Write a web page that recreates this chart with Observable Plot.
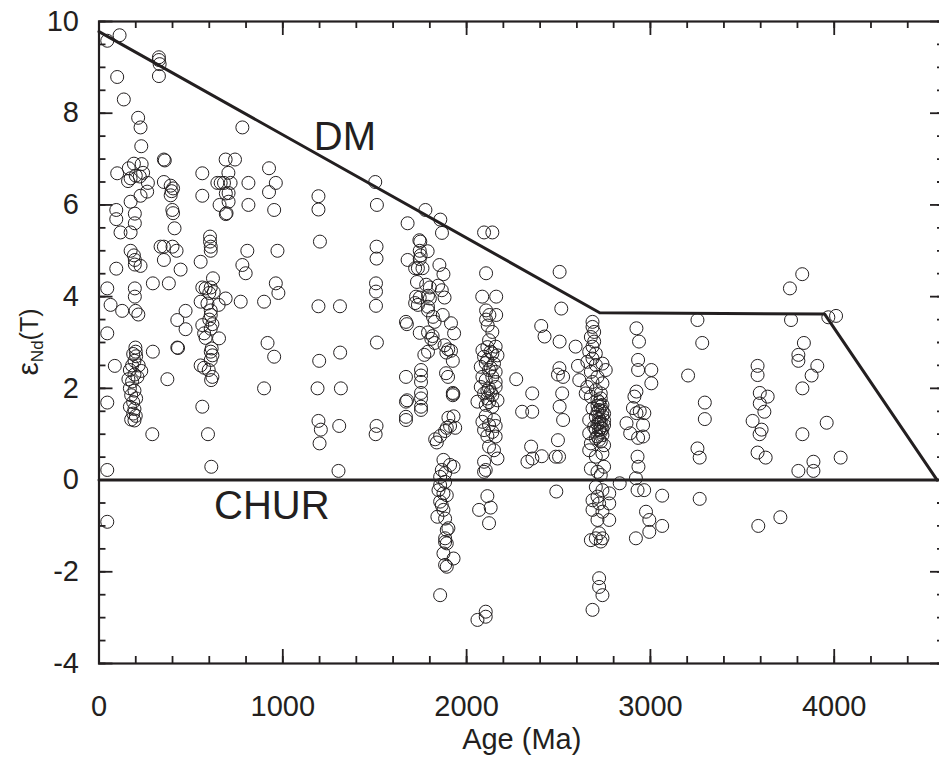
<!DOCTYPE html>
<html><head><meta charset="utf-8">
<script src="https://cdn.jsdelivr.net/npm/d3@7"></script>
<script src="https://cdn.jsdelivr.net/npm/@observablehq/plot@0.6"></script>
<style>
html,body{margin:0;padding:0;background:#fff;overflow:hidden;}
#chart svg{display:block;}
</style></head><body><div id="chart"></div>
<script>
// ---- data: [age (Ma), epsilon Nd(T)] ----
const group0to1000 = [
[45,9.58],[112,9.70],[326,9.22],[326,9.16],[330,9.07],[326,8.81],[99,8.79],[135,8.30],[213,7.90],[226,7.69],[780,7.69],[230,7.28],
[353,6.99],[358,6.97],[689,6.99],[740,6.99],[190,6.90],[232,6.89],[162,6.80],[99,6.69],[562,6.69],[925,6.80],[704,6.70],
[240,6.70],[200,6.64],[172,6.58],[158,6.52],[222,6.62],[266,6.48],[226,6.20],[262,6.29],[172,6.07],
[353,6.50],[390,6.42],[403,6.36],[395,6.30],[390,6.21],[562,6.20],[644,6.48],[662,6.48],[680,6.48],[716,6.48],[690,6.25],[705,6.26],
[705,6.07],[656,6.00],[690,5.80],[694,5.82],[813,6.48],[813,6.00],[962,6.48],[925,6.28],[953,5.89],
[94,5.89],[94,5.69],[195,5.81],[195,5.60],[117,5.40],[172,5.40],[399,5.89],[403,5.82],[411,5.49],
[604,5.31],[604,5.20],[608,5.09],[608,5.00],
[172,5.00],[190,4.90],[195,4.80],[195,4.70],[226,4.67],
[335,5.09],[353,5.09],[400,5.09],[422,5.00],[353,4.80],[444,4.59],[553,4.76],[807,5.00],[971,5.00],[780,4.69],[798,4.51],[94,4.61],
[45,4.18],[195,4.18],[195,4.00],[293,4.29],[380,4.29],[63,3.82],[126,3.69],[199,3.69],[214,3.61],[426,3.49],[471,3.69],[471,3.29],
[426,2.89],[430,2.88],[293,2.80],[372,2.20],[45,3.20],[86,2.49],[45,1.69],[45,0.22],[45,-0.91],[290,1.00],
[620,4.40],[562,4.20],[580,4.18],[608,4.20],[624,4.10],[600,4.08],[689,3.96],[771,3.89],[898,3.89],[962,4.29],[976,4.08],
[553,3.89],[590,3.85],[651,3.82],[608,3.70],[608,3.60],[600,3.50],[617,3.40],[608,3.30],[562,3.38],[572,3.20],[580,3.10],[653,3.09],
[613,2.87],[608,2.80],[617,2.72],[608,2.62],[553,2.50],[572,2.45],[597,2.40],[617,2.25],[610,2.18],[562,1.60],[593,1.00],[611,0.29],
[917,2.99],[953,2.69],[898,2.00],
[198,2.89],[200,2.80],[202,2.70],[186,2.75],[193,2.60],[180,2.50],[216,2.50],[230,2.38],[168,2.40],[193,2.30],[160,2.20],[180,2.15],
[209,2.25],[168,2.00],[193,1.95],[175,1.85],[202,1.78],[186,1.70],[168,1.60],[193,1.55],[186,1.45],[200,1.40],[175,1.32],[193,1.30]
];
const group1000to2000 = [
[1503,6.50],[1194,6.19],[1194,5.90],[1512,6.00],[1202,5.20],[1510,5.09],[1510,4.83],[1679,5.60],[1776,5.89],[1857,5.68],[1866,5.39],
[1507,4.29],[1507,4.11],[1507,3.80],[1194,3.79],[1311,3.79],[1512,3.00],[1312,2.78],[1198,2.60],[1189,2.00],[1316,2.00],
[1670,1.71],[1670,1.38],[1670,1.31],[1194,1.29],[1207,1.10],[1200,0.80],[1307,1.18],[1510,1.18],[1505,1.00],[1303,0.20],
[1743,5.23],[1748,5.20],[1788,4.99],[1745,5.00],[1750,4.90],[1745,4.82],[1679,4.80],[1720,4.62],[1735,4.62],[1760,4.62],[1852,4.69],[1874,4.49],
[1730,4.32],[1780,4.26],[1800,4.20],[1845,4.24],[1865,4.14],
[1725,4.00],[1745,3.98],[1790,4.02],[1800,3.96],[1880,3.98],
[1720,3.86],[1735,3.82],[1790,3.78],[1790,3.70],
[1817,3.56],[1826,3.45],[1670,3.45],[1675,3.40],[1870,3.60],[1915,3.42],[1932,3.20],
[1745,3.21],[1790,3.22],[1815,3.14],[1808,3.08],[1826,2.99],[1770,2.73],[1790,2.80],
[1880,2.94],[1900,2.85],[1915,2.82],[1890,2.78],[1925,2.60],
[1752,2.40],[1752,2.28],[1752,2.14],[1670,2.25],[1888,2.33],[1899,2.25],[1752,1.90],[1752,1.78],[1925,1.90],[1928,1.88],[1676,1.74],
[1752,1.60],[1752,1.53],[1925,1.85],
[1901,1.36],[1929,1.39],[1910,1.18],[1938,1.14],[1892,1.14],[1883,1.07],[1856,0.96],[1829,0.89],[1838,0.82],
[1874,0.44],[1910,0.33],[1929,0.29],[1865,0.22],[1883,0.15],[1856,0.07],[1883,-0.04],[1856,-0.11],[1847,-0.22],[1874,-0.29],[1892,-0.33],
[1856,-0.47],[1865,-0.55],[1874,-0.65],[1841,-0.80],[1883,-0.84],[1901,-1.05],[1892,-1.09],[1883,-1.27],[1883,-1.35],[1892,-1.38],
[1874,-1.60],[1929,-1.71],[1883,-1.85],[1892,-1.89],[1856,-2.51]
];
const group2000to3000 = [
[2095,5.40],[2140,5.40],[2106,4.51],[2085,4.00],[2161,4.00],[2506,4.54],[2515,3.74],
[2106,3.70],[2124,3.60],[2161,3.60],[2106,3.50],[2115,3.37],[2140,3.23],
[2406,3.36],[2424,3.13],[2506,3.02],[2593,2.91],
[2122,3.05],[2158,2.91],[2086,2.83],[2140,2.76],[2095,2.69],[2168,2.72],[2113,2.62],[2149,2.54],[2077,2.47],[2122,2.40],[2158,2.36],
[2086,2.25],[2140,2.25],[2104,2.18],[2158,2.14],[2077,2.03],[2122,2.00],[2158,2.03],[2095,1.89],[2140,1.85],[2113,1.78],[2059,1.71],
[2168,1.74],[2104,1.64],[2140,1.60],[2113,2.90],[2131,2.80],[2104,2.55],[2131,2.45],[2113,1.95],[2131,1.92],[2122,1.70],
[2104,1.40],[2149,1.31],[2086,1.27],[2122,1.20],[2158,1.18],[2095,1.09],[2140,1.05],[2113,0.96],[2158,0.95],
[2122,0.73],[2149,0.65],[2168,0.47],[2095,0.40],[2095,0.18],[2104,0.22],
[2113,-0.35],[2068,-0.65],[2131,-0.60],[2122,-0.94],[2104,-2.87],[2059,-3.05],[2104,-2.98],
[2270,2.20],[2357,1.89],[2302,1.49],[2357,1.49],[2505,2.44],[2497,2.30],[2525,2.25],[2606,2.49],[2613,2.18],[2520,1.89],[2506,1.60],
[2525,1.31],[2497,0.87],[2351,0.73],[2331,0.40],[2358,0.47],[2409,0.52],[2485,0.51],[2503,0.51],[2488,-0.25],[2833,-0.07],
[2685,3.45],[2685,3.34],[2694,3.23],[2676,3.12],[2694,3.02],[2685,2.91],[2667,2.80],[2703,2.76],[2685,2.65],[2657,2.58],[2703,2.51],
[2739,2.54],[2757,2.40],[2676,2.36],[2712,2.25],[2685,2.14],[2739,2.11],[2657,2.03],[2703,1.96],[2730,1.89],[2676,1.82],[2648,1.89],
[2712,1.74],[2739,1.64],[2685,1.56],[2721,1.53],[2748,1.45],[2703,1.38],[2667,1.31],[2730,1.27],[2748,1.20],[2694,1.16],[2721,1.09],
[2667,1.02],[2739,0.98],[2703,0.91],[2730,0.84],[2676,0.80],[2748,0.76],
[2721,1.70],[2730,1.60],[2712,1.48],[2739,1.40],[2721,1.33],[2712,1.22],[2739,1.12],[2730,1.05],[2712,0.95],[2721,0.88],[2739,1.50],
[2748,1.30],[2703,1.10],[2730,1.15],[2721,1.25],[2712,1.62],[2730,1.78],
[2667,0.65],[2703,0.51],[2739,0.58],[2676,0.25],[2712,0.18],[2748,0.29],[2730,0.11],[2703,-0.15],[2739,-0.22],[2712,-0.36],[2776,-0.29],
[2685,-0.44],[2721,-0.51],[2776,-0.51],[2685,-0.65],[2739,-0.69],[2712,-0.87],[2776,-0.87],[2721,-1.16],[2703,-1.27],[2739,-1.27],
[2676,-1.31],[2730,-1.34],[2721,-2.14],[2721,-2.33],[2739,-2.51],[2685,-2.83],
[2930,0.51],[2935,0.29],[2921,0.04],[2930,-0.22],[2966,-0.22],[2976,-0.69],[2994,-0.87],[2994,-1.13],[2921,-1.27],
[2924,3.31],[2938,3.02],[2933,2.62],[2933,2.40],[3005,2.40],[3005,2.11],[2924,1.93],[2913,1.82],[2905,1.57],[2924,1.46],[2967,1.46],
[2942,1.50],[2870,1.24],[2960,1.20],[2890,1.02],[2933,0.92],[2960,0.95]
];
const group3000plus = [
[3826,4.49],[3759,4.18],[3256,3.49],[3765,3.49],[3968,3.55],[4010,3.58],[3282,2.99],[3835,2.99],[3805,2.73],[3805,2.60],[3908,2.49],
[3877,2.28],[3827,2.00],[3205,2.28],[3583,2.49],[3583,2.29],[3595,1.90],[3638,1.82],[3595,1.67],[3620,1.49],[3556,1.29],[3605,1.10],
[3594,1.00],[3583,0.60],[3627,0.49],[3296,1.69],[3296,1.33],[3256,0.69],[3268,0.49],[3268,-0.41],[3587,-1.00],[3707,-0.81],
[3959,1.25],[4035,0.49],[3827,1.00],[3805,0.20],[3887,0.20],[3887,0.40],[3064,-0.34],[3064,-1.00]
];
// model curves
const dmAge = [0, 2724, 3948, 4560];
const dmEps = [9.78, 3.65, 3.62, 0];
const churAge = [0, 4600];
const churEps = [0, 0];
// ticks
const xTicks = [0, 1000, 2000, 3000, 4000];
const yTicks = [-4, -2, 0, 2, 4, 6, 8, 10];
const curveLabels = [{age: 1169, eps: 7.48, text: "DM"}, {age: 626, eps: -0.58, text: "CHUR"}];

// ---- build ----
const points = [...group0to1000, ...group1000to2000, ...group2000to3000, ...group3000plus].map(([age, eps]) => ({age, eps}));
const dm = dmAge.map((a, i) => ({age: a, eps: dmEps[i]}));
const chur = churAge.map((a, i) => ({age: a, eps: churEps[i]}));
const xMinor = d3.range(0, 4601, 200);
const yMinor = d3.range(-4, 10.01, 0.5);

const W = 939, H = 762, mL = 98.5, mR = -5, mT = 21, mB = 99;
const fW = W - mL - mR, fH = H - mT - mB;
const major = 14, minor = 7;
const ink = "#231f20";

const plot = Plot.plot({
  width: W, height: H,
  marginLeft: mL, marginRight: mR, marginTop: mT, marginBottom: mB,
  style: {fontFamily: "'Liberation Sans', Arial, Helvetica, sans-serif", background: "#fff", color: ink, overflow: "hidden"},
  x: {domain: [0, 4600]},
  y: {domain: [-4, 10]},
  marks: [
    Plot.axisX({ticks: xTicks, tickSize: 0, tickPadding: 32, fontSize: 29, label: null, tickFormat: d => String(d)}),
    Plot.axisY({ticks: yTicks, tickSize: 0, tickPadding: 20, fontSize: 29, label: null, tickFormat: d => String(d)}),
    // inward ticks on all four sides
    Plot.ruleX(xMinor, {x: d => d, insetTop: fH - minor, strokeWidth: 1.8, stroke: ink}),
    Plot.ruleX(xMinor, {x: d => d, insetBottom: fH - minor, strokeWidth: 1.8, stroke: ink}),
    Plot.ruleX(xTicks, {x: d => d, insetTop: fH - major, strokeWidth: 1.8, stroke: ink}),
    Plot.ruleX(xTicks, {x: d => d, insetBottom: fH - major, strokeWidth: 1.8, stroke: ink}),
    Plot.ruleY(yMinor, {y: d => d, insetRight: fW - minor, strokeWidth: 1.8, stroke: ink}),
    Plot.ruleY(yMinor, {y: d => d, insetLeft: fW - minor, strokeWidth: 1.8, stroke: ink}),
    Plot.ruleY(yTicks, {y: d => d, insetRight: fW - major, strokeWidth: 1.8, stroke: ink}),
    Plot.ruleY(yTicks, {y: d => d, insetLeft: fW - major, strokeWidth: 1.8, stroke: ink}),
    Plot.dot(points, {x: "age", y: "eps", r: 6.5, stroke: ink, strokeWidth: 1, fill: "none"}),
    Plot.line(chur, {x: "age", y: "eps", stroke: ink, strokeWidth: 3}),
    Plot.line(dm, {x: "age", y: "eps", stroke: ink, strokeWidth: 3}),
    Plot.frame({stroke: ink, strokeWidth: 2.2}),
    Plot.text(curveLabels, {x: "age", y: "eps", text: "text", textAnchor: "start", fontSize: 40, fill: ink}),
    Plot.text(["Age (Ma)"], {frameAnchor: "bottom", dy: 85, fontSize: 29, fill: ink})
  ]
});
document.getElementById("chart").appendChild(plot);

// y-axis title with subscript
const svg = d3.select(plot);
const t = svg.append("text")
  .attr("transform", `translate(38,${mT + fH / 2}) rotate(-90)`)
  .attr("text-anchor", "middle")
  .attr("fill", ink)
  .attr("font-family", "'Liberation Sans', Arial, Helvetica, sans-serif");
t.append("tspan").attr("font-size", 30).text("ε");
t.append("tspan").attr("font-size", 17).attr("dy", 5).text("Nd");
t.append("tspan").attr("font-size", 25).attr("dy", -5).text("(T)");
</script></body></html>
